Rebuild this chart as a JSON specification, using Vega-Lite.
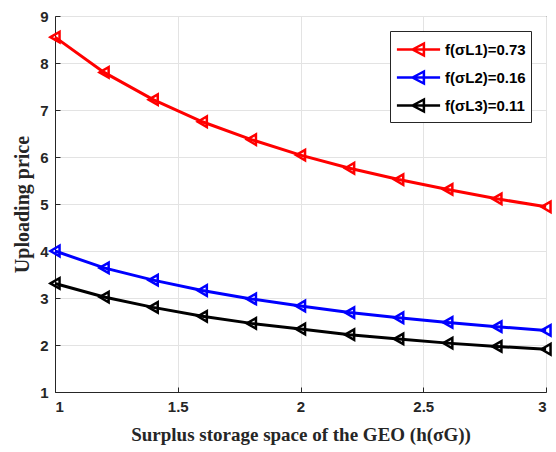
{
  "$schema": "https://vega.github.io/schema/vega-lite/v6.json",
  "width": 491,
  "height": 376,
  "autosize": {"type": "none"},
  "padding": {"left": 55, "top": 16, "right": 10, "bottom": 60},
  "background": "white",
  "config": {
    "view": {"stroke": "#262626", "strokeWidth": 1},
    "axis": {
      "labelFont": "Liberation Sans",
      "labelFontWeight": "bold",
      "labelFontSize": 15,
      "labelColor": "#262626",
      "titleFont": "Liberation Serif",
      "titleFontWeight": "bold",
      "titleFontSize": 19,
      "titleColor": "#262626",
      "domainColor": "#262626",
      "tickColor": "#262626",
      "tickSize": -5,
      "labelPadding": 12,
      "gridColor": "#e3e3e3",
      "gridWidth": 1
    }
  },
  "data": {
    "values": [
      {"x": 1.0, "y": 8.55, "series": "f(σL1)=0.73"},
      {"x": 1.2, "y": 7.80, "series": "f(σL1)=0.73"},
      {"x": 1.4, "y": 7.22, "series": "f(σL1)=0.73"},
      {"x": 1.6, "y": 6.75, "series": "f(σL1)=0.73"},
      {"x": 1.8, "y": 6.37, "series": "f(σL1)=0.73"},
      {"x": 2.0, "y": 6.04, "series": "f(σL1)=0.73"},
      {"x": 2.2, "y": 5.76, "series": "f(σL1)=0.73"},
      {"x": 2.4, "y": 5.52, "series": "f(σL1)=0.73"},
      {"x": 2.6, "y": 5.31, "series": "f(σL1)=0.73"},
      {"x": 2.8, "y": 5.11, "series": "f(σL1)=0.73"},
      {"x": 3.0, "y": 4.94, "series": "f(σL1)=0.73"},
      {"x": 1.0, "y": 4.00, "series": "f(σL2)=0.16"},
      {"x": 1.2, "y": 3.64, "series": "f(σL2)=0.16"},
      {"x": 1.4, "y": 3.38, "series": "f(σL2)=0.16"},
      {"x": 1.6, "y": 3.16, "series": "f(σL2)=0.16"},
      {"x": 1.8, "y": 2.98, "series": "f(σL2)=0.16"},
      {"x": 2.0, "y": 2.83, "series": "f(σL2)=0.16"},
      {"x": 2.2, "y": 2.69, "series": "f(σL2)=0.16"},
      {"x": 2.4, "y": 2.58, "series": "f(σL2)=0.16"},
      {"x": 2.6, "y": 2.48, "series": "f(σL2)=0.16"},
      {"x": 2.8, "y": 2.39, "series": "f(σL2)=0.16"},
      {"x": 3.0, "y": 2.31, "series": "f(σL2)=0.16"},
      {"x": 1.0, "y": 3.31, "series": "f(σL3)=0.11"},
      {"x": 1.2, "y": 3.02, "series": "f(σL3)=0.11"},
      {"x": 1.4, "y": 2.80, "series": "f(σL3)=0.11"},
      {"x": 1.6, "y": 2.61, "series": "f(σL3)=0.11"},
      {"x": 1.8, "y": 2.46, "series": "f(σL3)=0.11"},
      {"x": 2.0, "y": 2.34, "series": "f(σL3)=0.11"},
      {"x": 2.2, "y": 2.22, "series": "f(σL3)=0.11"},
      {"x": 2.4, "y": 2.13, "series": "f(σL3)=0.11"},
      {"x": 2.6, "y": 2.04, "series": "f(σL3)=0.11"},
      {"x": 2.8, "y": 1.97, "series": "f(σL3)=0.11"},
      {"x": 3.0, "y": 1.91, "series": "f(σL3)=0.11"}
    ]
  },
  "encoding": {
    "x": {
      "field": "x", "type": "quantitative",
      "scale": {"domain": [1, 3], "nice": false},
      "axis": {"values": [1, 1.5, 2, 2.5, 3], "format": "~g", "title": "Surplus storage space of the GEO (h(σG))", "titlePadding": 11}
    },
    "y": {
      "field": "y", "type": "quantitative",
      "scale": {"domain": [1, 9], "nice": false},
      "axis": {"values": [1, 2, 3, 4, 5, 6, 7, 8, 9], "format": "~g", "title": "Uploading price", "titlePadding": 7, "titleFontSize": 20}
    },
    "color": {
      "field": "series", "type": "nominal",
      "scale": {"domain": ["f(σL1)=0.73", "f(σL2)=0.16", "f(σL3)=0.11"], "range": ["#ff0000", "#0000ff", "#000000"]},
      "legend": {
        "title": null,
        "orient": "top-right",
        "offset": 15,
        "fillColor": "white",
        "strokeColor": "#262626",
        "padding": 5,
        "symbolType": "M-1.8,0H1.8M-0.5,0L0.45,-0.5L0.45,0.5Z",
        "symbolSize": 576,
        "symbolOffset": 10,
        "symbolStrokeWidth": 2.5,
        "symbolFillColor": "transparent",
        "labelFont": "Liberation Sans",
        "labelFontWeight": "bold",
        "labelFontSize": 15,
        "labelColor": "#000000",
        "rowPadding": 3,
        "labelOffset": 13
      }
    }
  },
  "layer": [
    {"mark": {"type": "line", "strokeWidth": 3}},
    {"mark": {"type": "point", "shape": "triangle-left", "filled": false, "size": 110, "strokeWidth": 2.5, "opacity": 1}}
  ]
}
